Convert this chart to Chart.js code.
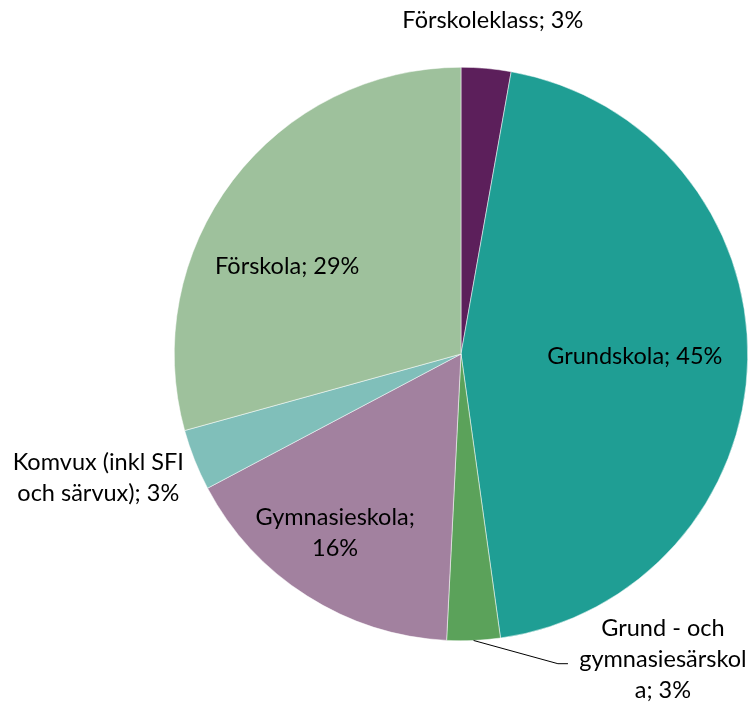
<!DOCTYPE html>
<html><head><meta charset="utf-8">
<script src="https://cdn.jsdelivr.net/npm/chart.js@4/dist/chart.umd.min.js"></script>
<style>html,body{margin:0;padding:0;background:#fff;}#wrap{width:753px;height:702px;}</style>
</head><body><div id="wrap"><canvas id="c" width="753" height="702"></canvas></div>
<script>
const categories = ["Förskoleklass", "Grundskola", "Grund - och gymnasiesärskola", "Gymnasieskola", "Komvux (inkl SFI och särvux)", "Förskola"];
const values = [2.8, 45.0, 3.0, 16.45, 3.45, 29.3];
const percentLabels = ["3%", "45%", "3%", "16%", "3%", "29%"];
const labelLines = [
  ["Förskoleklass; 3%"],
  ["Grundskola; 45%"],
  ["Grund - och", "gymnasiesärskol", "a; 3%"],
  ["Gymnasieskola;", "16%"],
  ["Komvux (inkl SFI", "och särvux); 3%"],
  ["Förskola; 29%"]
];
const colors = ["#5C1F5B", "#1F9E94", "#5BA25A", "#A2819F", "#80BFBA", "#9EC19C"];

// label placement in units of radius relative to pie centre
const labelPos = [[0.111,-1.164],[0.606,0.010],[0.704,1.066],[-0.439,0.624],[-1.265,0.432],[-0.606,-0.307]];
const leader = {2: [0.338, 1.08, 0.373, 1.08]};

const labelPlugin = {
  id: 'pieLabels',
  afterDatasetsDraw(chart) {
    const ctx = chart.ctx;
    const meta = chart.getDatasetMeta(0);
    const lh = 31;
    ctx.save();
    ctx.font = '23.5px "Lato", "Open Sans", sans-serif';
    ctx.fillStyle = '#000';
    ctx.textAlign = 'center';
    ctx.textBaseline = 'middle';
    meta.data.forEach((arc, i) => {
      const cx = arc.x, cy = arc.y, r = arc.outerRadius;
      const px = cx + labelPos[i][0]*r, py = cy + labelPos[i][1]*r;
      const lines = labelLines[i];
      lines.forEach((t, k) => {
        ctx.fillText(t, px, py + (k - (lines.length-1)/2)*lh);
      });
      if (leader[i]) {
        const mid = (arc.startAngle + arc.endAngle)/2;
        const sx = cx + Math.cos(mid)*r, sy = cy + Math.sin(mid)*r;
        const l = leader[i];
        ctx.beginPath();
        ctx.strokeStyle = '#000';
        ctx.lineWidth = 1;
        ctx.moveTo(sx, sy);
        ctx.lineTo(cx + l[0]*r, cy + l[1]*r);
        ctx.lineTo(cx + l[2]*r, cy + l[3]*r);
        ctx.stroke();
      }
    });
    ctx.restore();
  }
};

new Chart(document.getElementById('c'), {
  type: 'pie',
  data: {
    labels: categories,
    datasets: [{ data: values, backgroundColor: colors, borderWidth: 0.5, borderColor: '#ffffff' }]
  },
  options: {
    responsive: false,
    animation: false,
    layout: { padding: { top: 67, bottom: 61, left: 174, right: 5 } },
    plugins: { legend: { display: false }, tooltip: { enabled: false } }
  },
  plugins: [labelPlugin]
});
</script>
</body></html>
